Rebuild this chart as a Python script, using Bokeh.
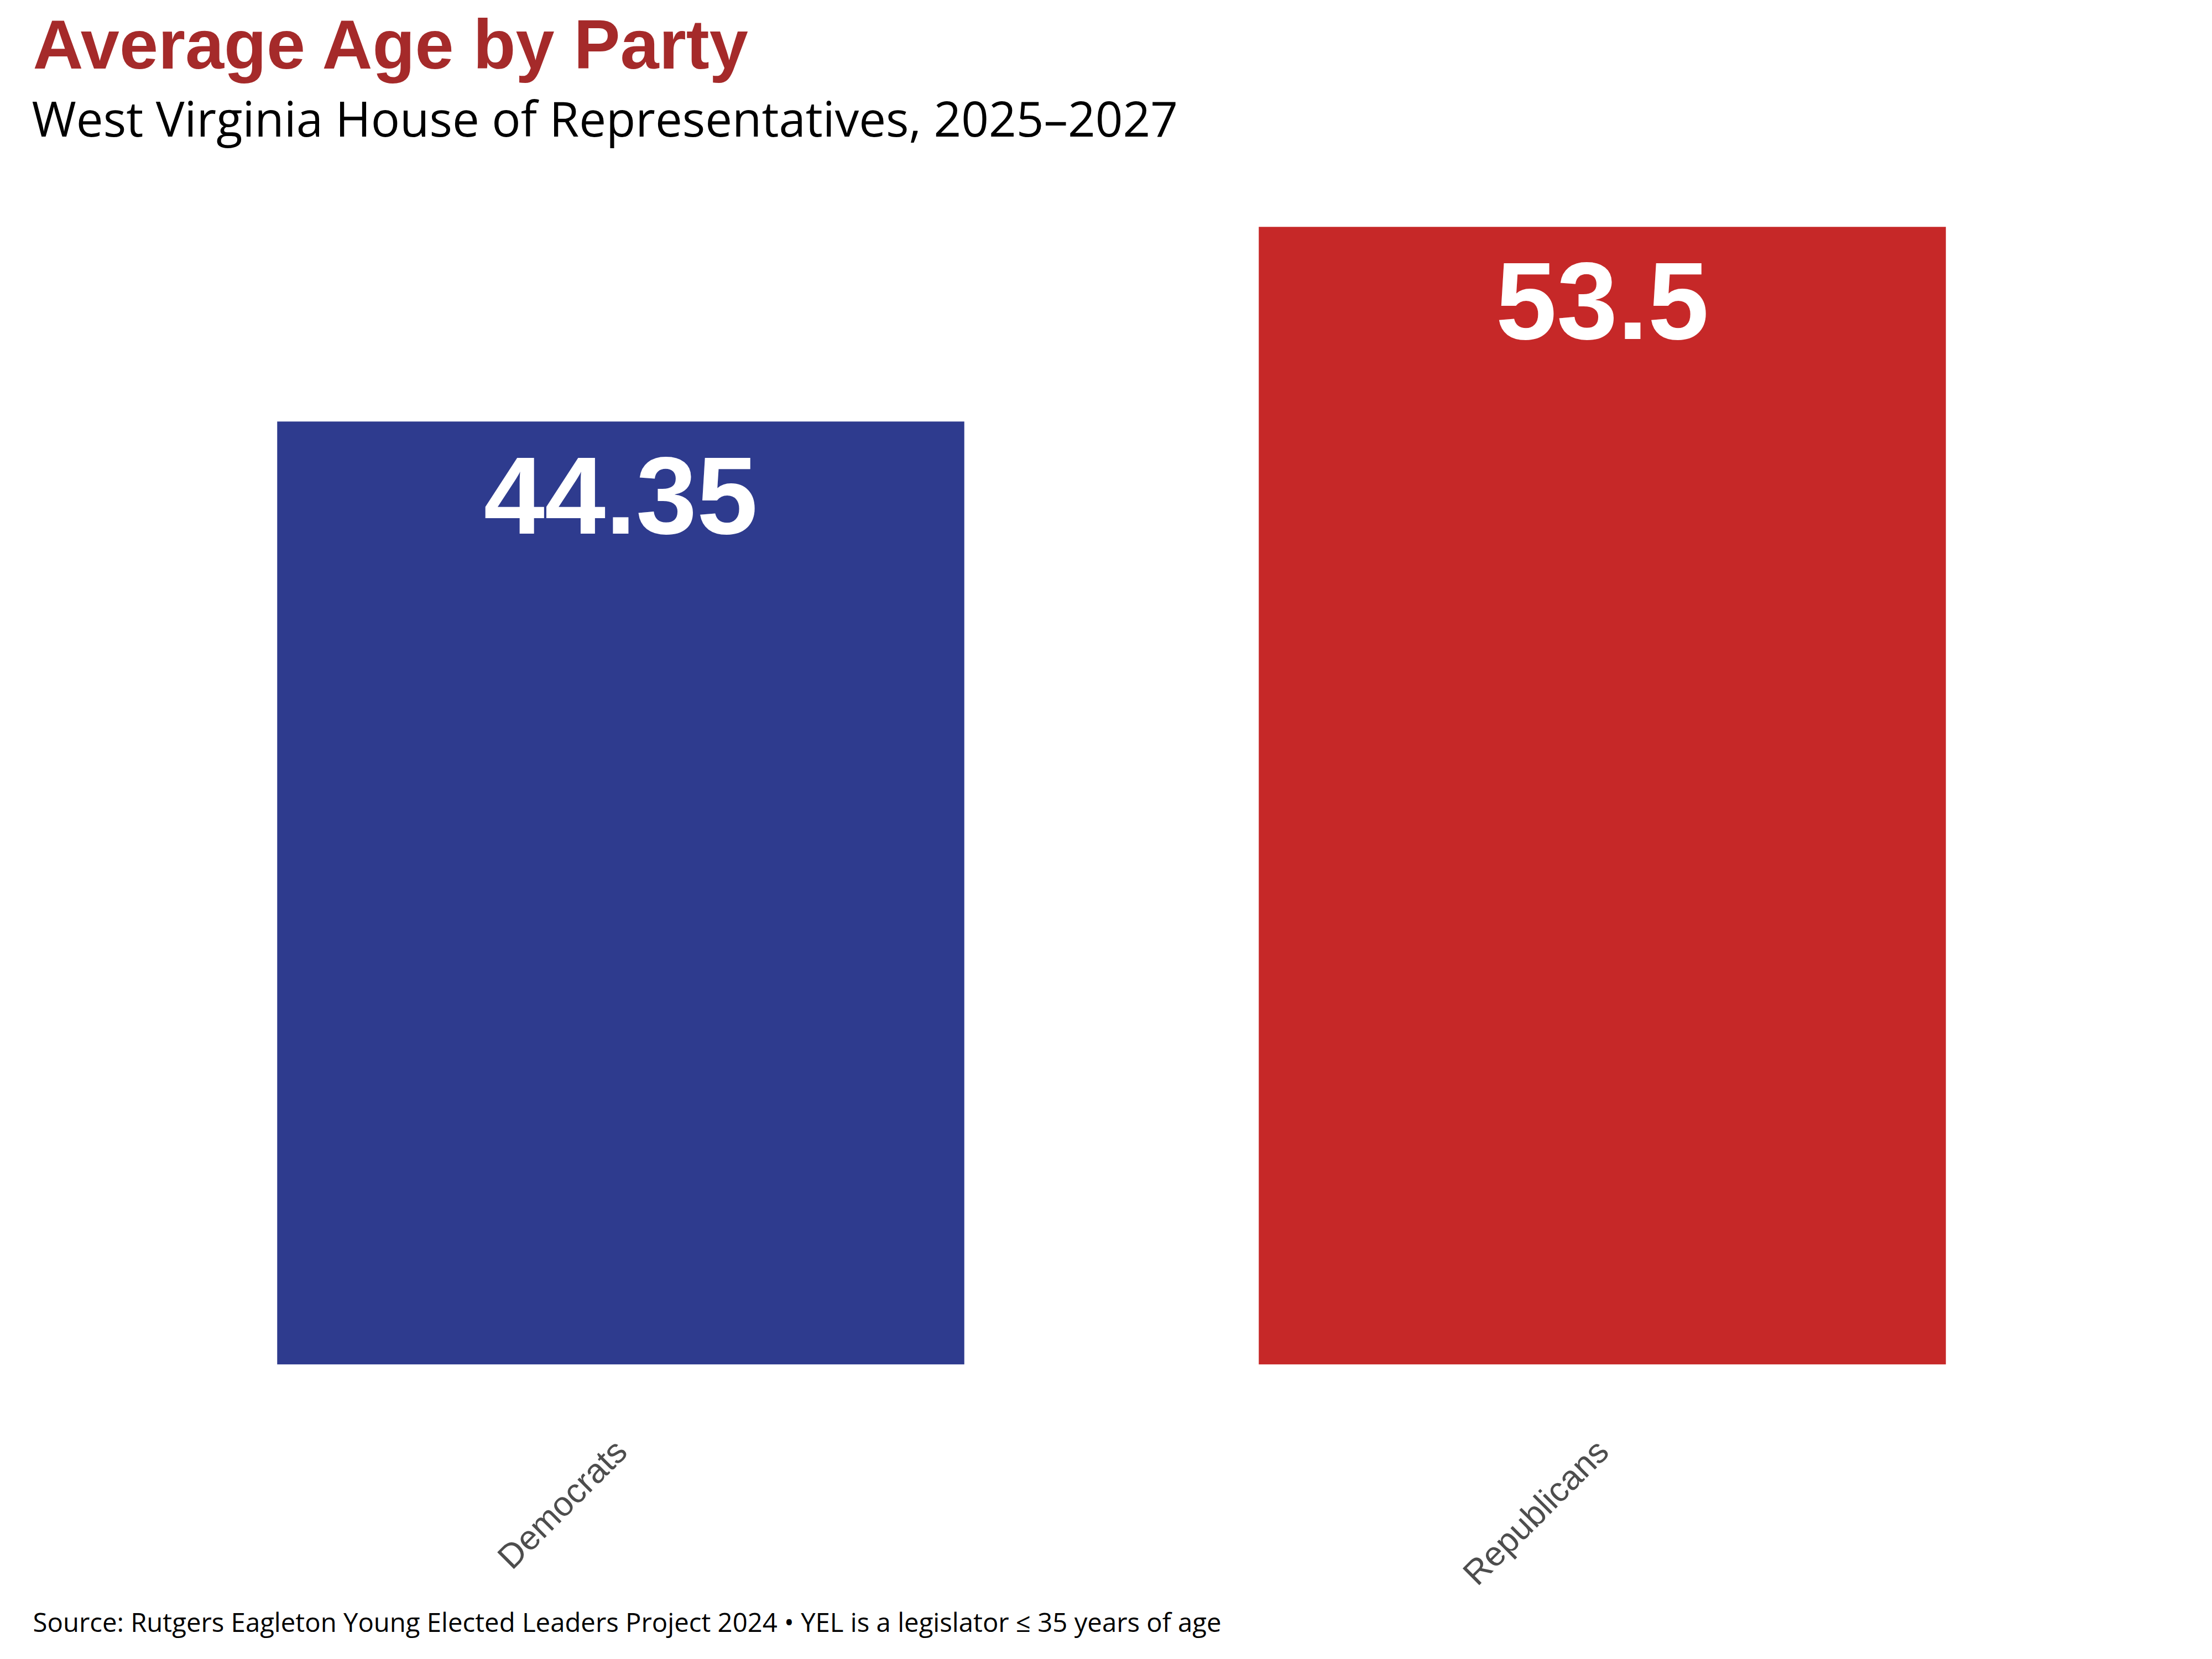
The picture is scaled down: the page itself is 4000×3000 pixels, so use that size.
import math
from bokeh.plotting import figure
from bokeh.models import FactorRange, Range1d, Title, ColumnDataSource
from bokeh.core.properties import value
from bokeh.embed import file_html
from bokeh.resources import INLINE

# ---- data ----
categories = ["Democrats", "Republicans"]
avg_age = [44.35, 53.5]
age_labels = ["44.35", "53.5"]
bar_colors = ["#2E3B8E", "#C62828"]

title_text = "Average Age by Party"
subtitle_text = "West Virginia House of Representatives, 2025\u20132027"
caption_text = ("Source: Rutgers Eagleton Young Elected Leaders Project 2024 \u2022 "
                "YEL is a legislator \u2264 35 years of age")

W, H = 4000, 3000
ML, MR, MT, MB = 57, 38, 307, 533

src = ColumnDataSource(dict(cat=categories, age=avg_age, lab=age_labels, color=bar_colors))

p = figure(width=W, height=H, output_backend="svg", toolbar_location=None,
           x_range=FactorRange(factors=categories, range_padding=0.1,
                               range_padding_units="absolute"),
           y_range=Range1d(0, max(avg_age) * 1.05),
           y_axis_location=None, title=None,
           min_border_left=ML, min_border_right=MR,
           min_border_top=MT, min_border_bottom=MB)
p.outline_line_color = None
p.xgrid.visible = False
p.ygrid.visible = False
p.background_fill_color = "white"
p.border_fill_color = "white"

p.vbar(x="cat", top="age", width=0.7, bottom=0, source=src,
       fill_color="color", line_color=None)

p.text(x="cat", y="age", text="lab", source=src,
       text_font=value("Liberation Sans"), text_font_style="bold",
       text_font_size="198px", text_color="white",
       text_align="center", text_baseline="alphabetic", y_offset=134)

ax = p.xaxis[0]
ax.axis_line_color = None
ax.major_tick_line_color = None
ax.minor_tick_line_color = None
ax.major_label_orientation = math.pi / 4
ax.major_label_text_font = "Liberation Sans"
ax.major_label_text_font_size = "62px"
ax.major_label_text_color = "#4D4D4D"
ax.major_label_standoff = 140

# subtitle first (closest to the frame), then the main title above it
p.add_layout(Title(text=subtitle_text, align="left", offset=0, standoff=72,
                   text_font="Open Sans", text_font_style="normal",
                   text_font_size="87px", text_color="black"), "above")
p.add_layout(Title(text=title_text, align="left", offset=2, standoff=-70,
                   text_font="Liberation Sans", text_font_style="bold",
                   text_font_size="126px", text_color="#A52A2A"), "above")
p.add_layout(Title(text=caption_text, align="left", offset=2, standoff=-18,
                   text_font="Open Sans", text_font_style="normal",
                   text_font_size="47.3px", text_color="black"), "below")

open("out.html", "w").write(file_html(p, INLINE))
